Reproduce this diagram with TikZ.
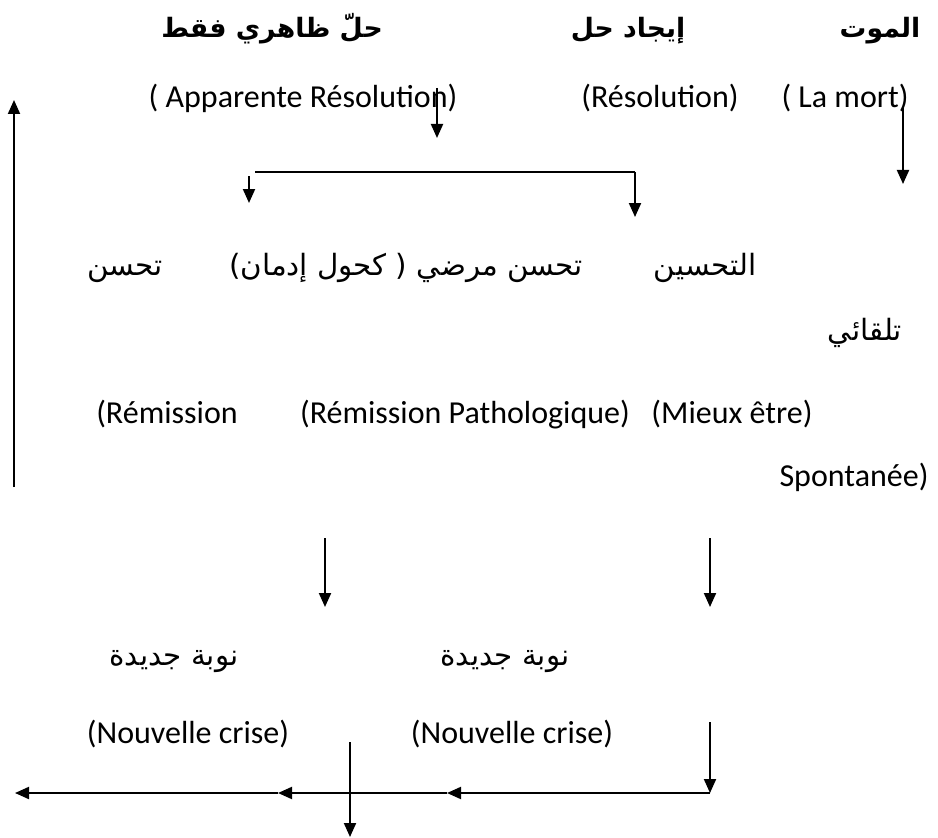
\documentclass[tikz,border=0pt]{standalone}
\usepackage{fontspec}
\setmainfont{Carlito}
\newfontfamily\arabicfont[Script=Arabic]{DejaVu Sans}
\TeXXeTstate=1
\usetikzlibrary{arrows.meta}
\newcommand{\arabtxt}[1]{\beginR #1\endR}
\tikzset{
  lbl/.style={inner sep=0pt, anchor=base, font=\fontsize{24}{28}\selectfont},
  albl/.style={inner sep=0pt, anchor=base, font=\fontsize{22}{28}\selectfont\arabicfont},
  abold/.style={inner sep=0pt, anchor=base, font=\fontsize{20}{24}\selectfont\arabicfont\bfseries},
  arr/.style={line width=1.5pt, -{Triangle[length=10.5pt,width=9pt]}},
}
\begin{document}
\begin{tikzpicture}[x=0.75pt,y=-0.75pt]
  \useasboundingbox (0,0) rectangle (938,838);
  \draw
    (272,38) node[abold] (apparent){\arabtxt{حلّ ظاهري فقط}}
    (628,38) node[abold] (resol){\arabtxt{إيجاد حل}}
    (880,38) node[abold] (mort){\arabtxt{الموت}}
    (303,108) node[lbl] (apparentfr){( Apparente Résolution)}
    (660,108) node[lbl] (resolfr){(Résolution)}
    (845,108) node[lbl] (mortfr){( La mort)}
    (705,275) node[albl] (mieux){\arabtxt{التحسين}}
    (406,275) node[albl] (patho){\arabtxt{تحسن مرضي ( كحول إدمان)}}
    (125,275) node[albl] (spont){\arabtxt{تحسن}}
    (865,340) node[albl] (spontb){\arabtxt{تلقائي}}
    (167,423) node[lbl] (spontfr){(Rémission}
    (465,423) node[lbl] (pathofr){(Rémission Pathologique)}
    (732,423) node[lbl] (mieuxfr){(Mieux être)}
    (854,486) node[lbl] (spontfrb){Spontanée)}
    (174,665) node[albl] (crisea){\arabtxt{نوبة جديدة}}
    (505,665) node[albl] (criseb){\arabtxt{نوبة جديدة}}
    (188,743) node[lbl] (criseafr){(Nouvelle crise)}
    (512,743) node[lbl] (crisebfr){(Nouvelle crise)};
  \coordinate (up0) at (14,487);
  \coordinate (up1) at (14,100);
  \coordinate (s0) at (437,88);
  \coordinate (s1) at (437,138);
  \coordinate (m0) at (903,108);
  \coordinate (m1) at (903,184);
  \coordinate (b0) at (255,172);
  \coordinate (b1) at (635,172);
  \coordinate (b2) at (635,217);
  \coordinate (b3) at (249,176);
  \coordinate (b4) at (249,203);
  \coordinate (d1) at (325,538);
  \coordinate (d2) at (325,607);
  \coordinate (d3) at (710,538);
  \coordinate (d4) at (710,607);
  \coordinate (e0) at (710,722);
  \coordinate (e1) at (710,793);
  \coordinate (h1) at (447,793);
  \coordinate (h2) at (278,793);
  \coordinate (h3) at (15,793);
  \coordinate (c0) at (350,742);
  \coordinate (c1) at (350,837);
  \begin{scope}[arr]
    \draw (up0) to (up1);
    \draw (s0) to (s1);
    \draw (m0) to (m1);
    \draw[-] (b0) to (b1);
    \draw (b1) to (b2);
    \draw (b3) to (b4);
    \draw (d1) to (d2);
    \draw (d3) to (d4);
    \draw (e0) to (e1);
    \draw (e1) to (h1);
    \draw (h1) to (h2);
    \draw (h2) to (h3);
    \draw (c0) to (c1);
  \end{scope}
\end{tikzpicture}
\end{document}
